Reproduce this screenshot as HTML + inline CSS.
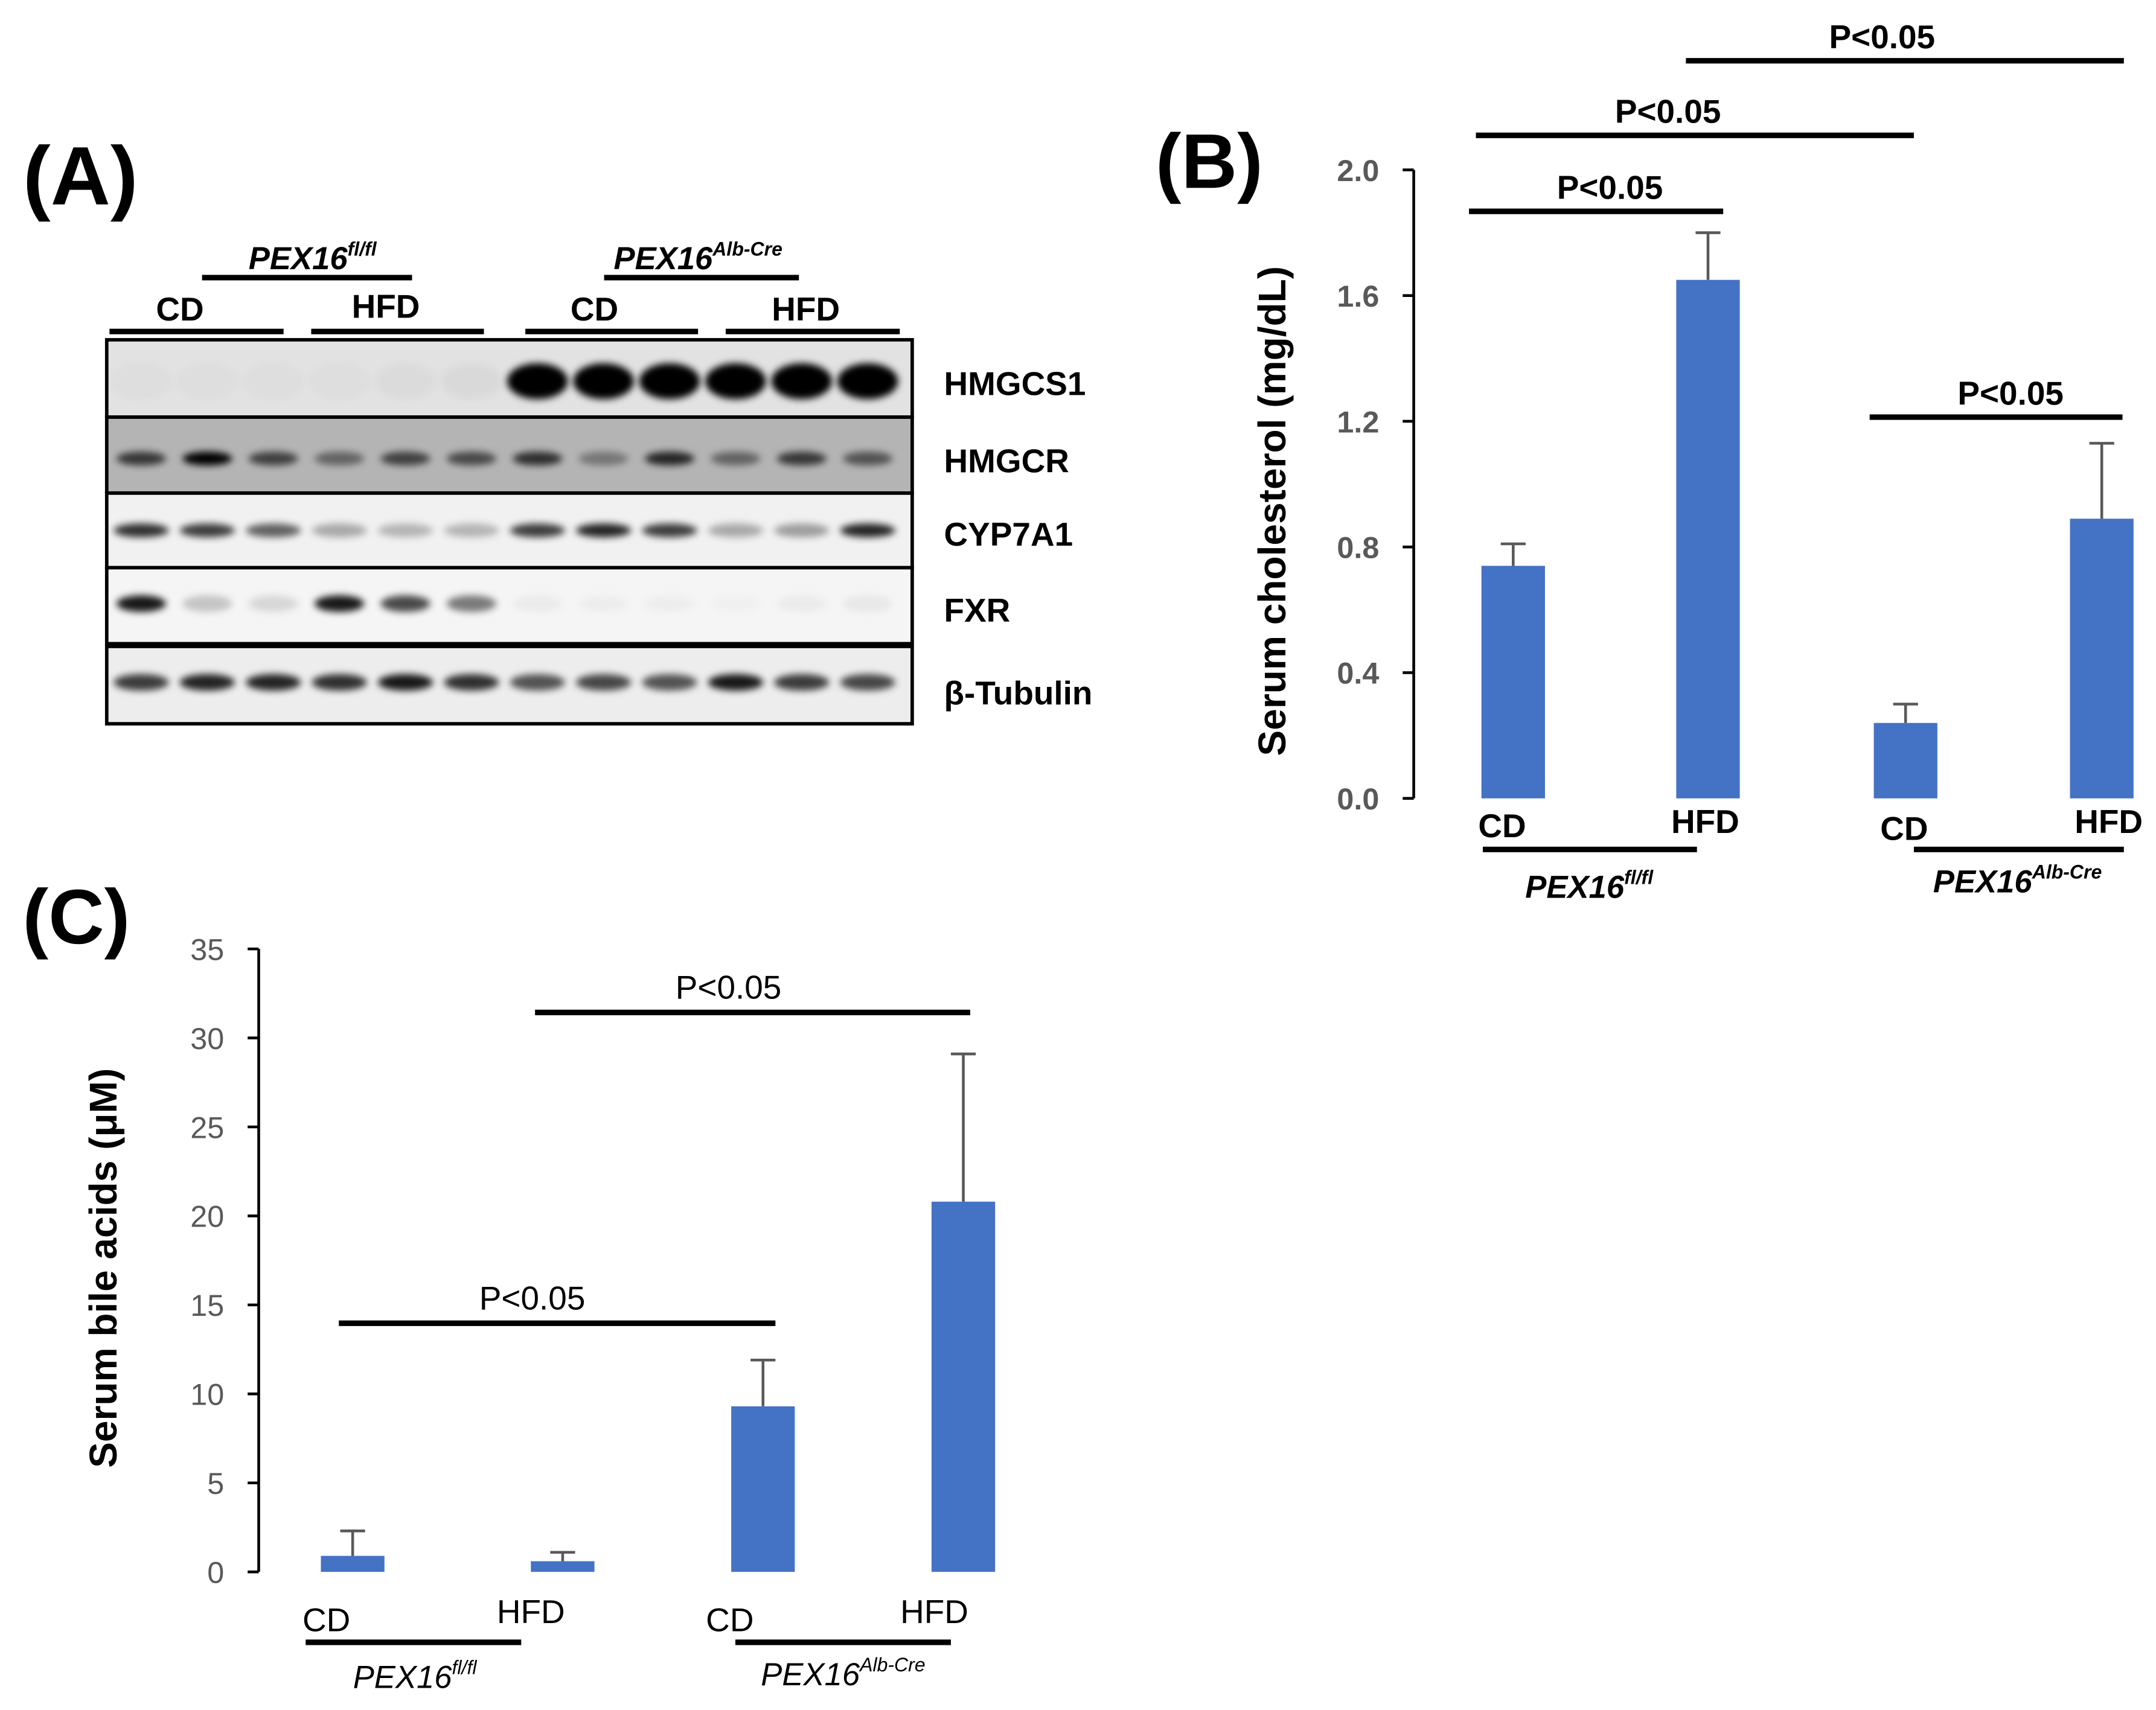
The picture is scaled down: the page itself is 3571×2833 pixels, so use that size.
<!DOCTYPE html>
<html><head><meta charset="utf-8"><style>
html,body{margin:0;padding:0;background:#fff}
svg{display:block}
text{font-family:"Liberation Sans",sans-serif}
.b{font-weight:bold}
</style></head><body>
<svg id="fig" width="3571" height="2833" viewBox="0 0 1560 1238" xmlns="http://www.w3.org/2000/svg">
<defs>
<filter id="blur" x="-50%" y="-50%" width="200%" height="200%"><feGaussianBlur stdDeviation="2.5"/></filter>
</defs>
<g id="panelA"></g>
<g id="panelB"></g>
<g id="panelC"></g>
</svg>
<script>
const NS='http://www.w3.org/2000/svg';
function el(parent,tag,attrs,txt){const e=document.createElementNS(NS,tag);for(const k in attrs)e.setAttribute(k,attrs[k]);if(txt!==undefined)e.textContent=txt;parent.appendChild(e);return e;}

// ===== Panel B data =====
const bCategories=['CD','HFD','CD','HFD'];
const bValues=[0.74,1.65,0.24,0.89];
const bErrors=[0.07,0.15,0.06,0.24];
const bTicks=[0.0,0.4,0.8,1.2,1.6,2.0];
const bTickLabels=['0.0','0.4','0.8','1.2','1.6','2.0'];
// ===== Panel C data =====
const cCategories=['CD','HFD','CD','HFD'];
const cValues=[0.9,0.6,9.3,20.8];
const cErrors=[1.4,0.5,2.6,8.3];
const cTicks=[0,5,10,15,20,25,30,35];
const cTickLabels=['0','5','10','15','20','25','30','35'];
// ===== Panel A band intensities (0-1) =====
const bandHMGCS1=[0.02,0.02,0.02,0.02,0.03,0.04,1,1,1,1,1,1];
const bandHMGCR=[0.7,1,0.65,0.45,0.65,0.6,0.75,0.35,0.8,0.45,0.7,0.55];
const bandCYP7A1=[0.8,0.75,0.6,0.3,0.25,0.25,0.75,0.85,0.75,0.3,0.35,0.85];
const bandFXR=[0.9,0.2,0.12,0.9,0.7,0.5,0.04,0.03,0.03,0.02,0.04,0.05];
const bandTubulin=[0.75,0.85,0.85,0.8,0.9,0.8,0.65,0.7,0.65,0.9,0.75,0.7];

// ---------- Panel B ----------
(function(){
  const g=document.getElementById('panelB');
  const x0=1023, y0=578, yTop=123, vmax=2.0;
  const y=v=>y0-(v/vmax)*(y0-yTop);
  const centers=[1095,1236,1379,1521], bw=46;
  let t=el(g,'text',{x:875,y:136,'font-size':56,'font-weight':'bold','text-anchor':'middle'},'(B)');
  
  
  const ax=el(g,'line',{x1:x0,y1:y0,x2:x0,y2:yTop,stroke:'#000','stroke-width':2});
  
  
  bTicks.forEach((v,i)=>{
    const tk=el(g,'line',{x1:x0-8,x2:x0,y1:y(v),y2:y(v),stroke:'#000','stroke-width':2});
    
    
    const tl=el(g,'text',{x:998,y:y(v)+8,'font-size':22,'font-weight':'bold',fill:'#595959','text-anchor':'end'},bTickLabels[i]);
    
    
  });
  const yt=el(g,'text',{x:0,y:0,'font-size':28,'font-weight':'bold','text-anchor':'middle',transform:'translate(930,370) rotate(-90)'},'Serum cholesterol (mg/dL)');
  
  
  bValues.forEach((v,i)=>{
    const cx=centers[i];
    const e=y(v+bErrors[i]);
    const el1=el(g,'line',{x1:cx,x2:cx,y1:y(v),y2:e,stroke:'#595959','stroke-width':2});
    
    
    const el2=el(g,'line',{x1:cx-9,x2:cx+9,y1:e,y2:e,stroke:'#595959','stroke-width':2});
    
    
    const r=el(g,'rect',{x:cx-bw/2,y:y(v),width:bw,height:y0-y(v),fill:'#4472c4'});
    
    
  });
  const lab=[[1087,606],[1234,603],[1378,608],[1526,603]];
  bCategories.forEach((c,i)=>{
    const tl=el(g,'text',{x:lab[i][0],y:lab[i][1],'font-size':24,'font-weight':'bold','text-anchor':'middle'},c);
    
    
  });
  [[1073,1228],[1385,1537]].forEach(s=>{
    const l=el(g,'line',{x1:s[0],x2:s[1],y1:615,y2:615,stroke:'#000','stroke-width':4});
    
    
  });
  const g1=el(g,'text',{x:1150,y:650,'font-size':23,'font-weight':'bold','font-style':'italic','text-anchor':'middle'});
  
  
  g1.innerHTML='PEX16<tspan font-size="14" dy="-10">fl/fl</tspan>';
  const g2=el(g,'text',{x:1460,y:646,'font-size':23,'font-weight':'bold','font-style':'italic','text-anchor':'middle'});
  
  
  g2.innerHTML='PEX16<tspan font-size="14" dy="-10">Alb-Cre</tspan>';
  [[1063,1247,153,1165],[1068,1385,98,1207],[1220,1537,44,1362],[1353,1536,302,1455]].forEach(s=>{
    const l=el(g,'line',{x1:s[0],x2:s[1],y1:s[2],y2:s[2],stroke:'#000','stroke-width':4});
    
    
    const tt=el(g,'text',{x:s[3],y:s[2]-9,'font-size':24,'font-weight':'bold','text-anchor':'middle'},'P<0.05');
    
    
  });
})();

// ---------- Panel C ----------
(function(){
  const g=document.getElementById('panelC');
  const x0=187, y0=1138, yTop=687, vmax=35;
  const y=v=>y0-(v/vmax)*(y0-yTop);
  const centers=[255,407,552,697], bw=46;
  let t=el(g,'text',{x:55,y:683,'font-size':56,'font-weight':'bold','text-anchor':'middle'},'(C)');
  
  
  const ax=el(g,'line',{x1:x0,y1:y0,x2:x0,y2:yTop,stroke:'#000','stroke-width':2});
  
  
  cTicks.forEach((v,i)=>{
    const tk=el(g,'line',{x1:x0-8,x2:x0,y1:y(v),y2:y(v),stroke:'#000','stroke-width':2});
    
    
    const tl=el(g,'text',{x:162,y:y(v)+8,'font-size':22,fill:'#595959','text-anchor':'end'},cTickLabels[i]);
    
    
  });
  const yt=el(g,'text',{x:0,y:0,'font-size':28,'font-weight':'bold','text-anchor':'middle',transform:'translate(84,918) rotate(-90)'},'Serum bile acids (μM)');
  
  
  cValues.forEach((v,i)=>{
    const cx=centers[i];
    const e=y(v+cErrors[i]);
    const el1=el(g,'line',{x1:cx,x2:cx,y1:y(v),y2:e,stroke:'#595959','stroke-width':2});
    
    
    const el2=el(g,'line',{x1:cx-9,x2:cx+9,y1:e,y2:e,stroke:'#595959','stroke-width':2});
    
    
    const r=el(g,'rect',{x:cx-bw/2,y:y(v),width:bw,height:y0-y(v),fill:'#4472c4'});
    
    
  });
  const lab=[[236,1181],[384,1175],[528,1181],[676,1175]];
  cCategories.forEach((c,i)=>{
    const tl=el(g,'text',{x:lab[i][0],y:lab[i][1],'font-size':24,'text-anchor':'middle'},c);
    
    
  });
  [[221,377],[532,688]].forEach(s=>{
    const l=el(g,'line',{x1:s[0],x2:s[1],y1:1189,y2:1189,stroke:'#000','stroke-width':4});
    
    
  });
  const g1=el(g,'text',{x:300,y:1222,'font-size':23,'font-style':'italic','text-anchor':'middle'});
  
  
  g1.innerHTML='PEX16<tspan font-size="14" dy="-10">fl/fl</tspan>';
  const g2=el(g,'text',{x:610,y:1220,'font-size':23,'font-style':'italic','text-anchor':'middle'});
  
  
  g2.innerHTML='PEX16<tspan font-size="14" dy="-10">Alb-Cre</tspan>';
  [[245,561,958,385],[387,702,733,527]].forEach(s=>{
    const l=el(g,'line',{x1:s[0],x2:s[1],y1:s[2],y2:s[2],stroke:'#000','stroke-width':4});
    
    
    const tt=el(g,'text',{x:s[3],y:s[2]-10,'font-size':24,'text-anchor':'middle'},'P<0.05');
    
    
  });
})();

// ---------- Panel A ----------
(function(){
  const g=document.getElementById('panelA');
  let t=el(g,'text',{x:58,y:148,'font-size':60,'font-weight':'bold','text-anchor':'middle'},'(A)');
  
  
  const rows=[
    {name:'HMGCS1',y1:246,y2:302,bg:'#e2e2e2',bands:bandHMGCS1,by:276,bh:13,bwid:22,label:278},
    {name:'HMGCR',y1:302,y2:357,bg:'#b4b4b4',bands:bandHMGCR,by:332,bh:5,bwid:18,label:334},
    {name:'CYP7A1',y1:357,y2:411,bg:'#f1f1f1',bands:bandCYP7A1,by:384,bh:5,bwid:20,label:387},
    {name:'FXR',y1:411,y2:466,bg:'#f5f5f5',bands:bandFXR,by:437,bh:6,bwid:18,label:442},
    {name:'β-Tubulin',y1:468,y2:524,bg:'#ededed',bands:bandTubulin,by:494,bh:6,bwid:20,label:502}
  ];
  const lane=i=>102+i*47.8;
  rows.forEach(r=>{
    const bg=el(g,'rect',{x:77,y:r.y1,width:583,height:r.y2-r.y1,fill:r.bg,stroke:'#000','stroke-width':2.5});
    
    
    r.bands.forEach((v,i)=>{
      const b=el(g,'ellipse',{cx:lane(i),cy:r.by,rx:r.bwid,ry:r.bh,fill:'#000','fill-opacity':v,filter:'url(#blur)'});
      
      
    });
    const tl=el(g,'text',{x:683,y:r.label+8,'font-size':24,'font-weight':'bold'},r.name);
    
    
  });
  const thick=el(g,'line',{x1:77,x2:660,y1:467,y2:467,stroke:'#000','stroke-width':4});
  
  
  [[79,205],[225,350],[380,505],[525,651]].forEach(s=>{
    const l=el(g,'line',{x1:s[0],x2:s[1],y1:240,y2:240,stroke:'#000','stroke-width':4});
    
    
  });
  [[146,298],[437,578]].forEach(s=>{
    const l=el(g,'line',{x1:s[0],x2:s[1],y1:201,y2:201,stroke:'#000','stroke-width':4});
    
    
  });
  [['CD',130,232],['HFD',279,230],['CD',430,232],['HFD',583,232]].forEach(s=>{
    const tl=el(g,'text',{x:s[1],y:s[2],'font-size':24,'font-weight':'bold','text-anchor':'middle'},s[0]);
    
    
  });
  const g1=el(g,'text',{x:226,y:195,'font-size':23,'font-weight':'bold','font-style':'italic','text-anchor':'middle'});
  
  
  g1.innerHTML='PEX16<tspan font-size="14" dy="-10">fl/fl</tspan>';
  const g2=el(g,'text',{x:505,y:195,'font-size':23,'font-weight':'bold','font-style':'italic','text-anchor':'middle'});
  
  
  g2.innerHTML='PEX16<tspan font-size="14" dy="-10">Alb-Cre</tspan>';
})();
</script>
</body></html>
